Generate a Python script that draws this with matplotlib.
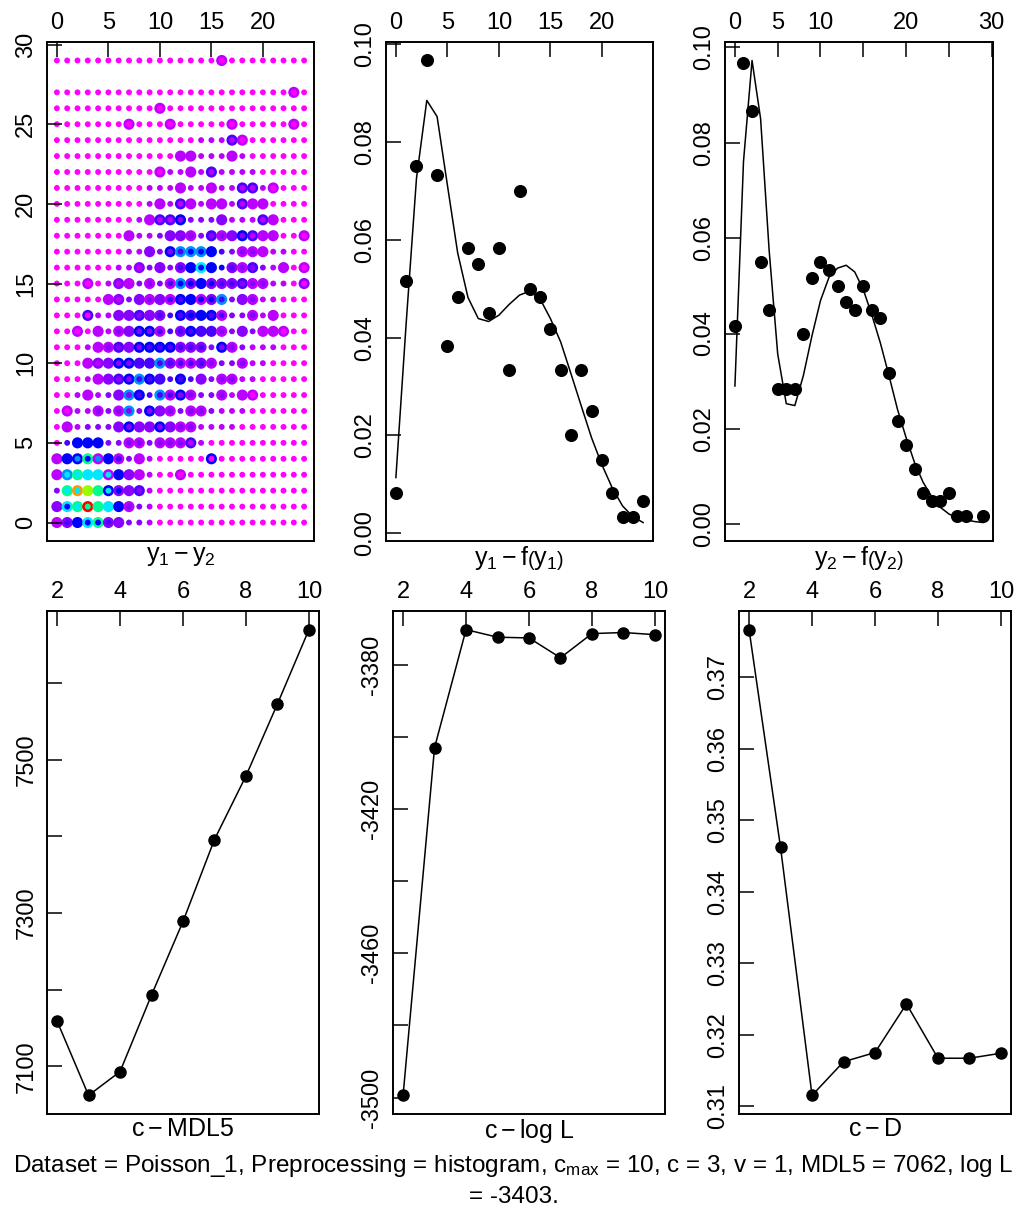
import numpy as np
import matplotlib
matplotlib.use("Agg")
import matplotlib.pyplot as plt

plt.rcParams['font.family'] = ['Liberation Sans', 'DejaVu Sans']
plt.rcParams['mathtext.fontset'] = 'custom'
plt.rcParams['mathtext.rm'] = 'Liberation Sans'
plt.rcParams['mathtext.it'] = 'Liberation Sans:italic'

# ---- panel 1: y1 - y2 grid (rows are y2 values, columns y1 = 0..24)
# empirical frequency level ('.' = no observation, 'a' = 10)
y2_rows = [29, 27, 26, 25, 24, 23, 22, 21, 20, 19, 18, 17, 16, 15, 14,
           13, 12, 11, 10, 9, 8, 7, 6, 5, 4, 3, 2, 1, 0]
emp_grid = [
    "................1........",
    ".......................1.",
    "..........1..............",
    ".......1...1.....1.....1.",
    ".................31......",
    "............11...1.......",
    "..........1..1.3.........",
    "............1..1..33.1...",
    "..........1.31.11.311....",
    ".........1334...2...31...",
    ".......1...221.3124311..1",
    ".........2.45554..111....",
    "........2.2.2464.213..1.1",
    "...1..21.1.1524222311...2",
    ".....12.212144125.21.....",
    "...3..22322.43441..1.1...",
    "..1.1.12441.24331.2.111..",
    "....11324444222.41.......",
    "...1224433521121..1......",
    "....1234543.4.2.11.......",
    "...1..254.5141..1.11.....",
    ".1..1.15.421.11..........",
    ".1....24224211...........",
    "..444..11.1113...........",
    "1447141.1......4.........",
    "157661421...1............",
    ".79874223................",
    "267a7641.................",
    "1246722..................",
]
# fitted density level at every grid point
fit_grid = [
    "0000000000000000000000000",
    "0000000000000000000000000",
    "0000000000000000000000000",
    "0000000000000000000000000",
    "0000000000000011110000000",
    "0000000000001111111000000",
    "0000000000011111111100000",
    "0000000001111111111110000",
    "0000000001111111111110000",
    "0000000011112222211111000",
    "0000000111222222222111000",
    "0000000112223444322211100",
    "0000001112223444432221100",
    "0000011122234444332221100",
    "0000011222233444322211000",
    "0000112222333443322211000",
    "0000112222333333222211000",
    "0001122223333332222111000",
    "0001122233333332222110000",
    "0001122233333322221100000",
    "0011122233332222211000000",
    "0011222222222222111000000",
    "0112222222222211110000000",
    "0344422222222110000000000",
    "1454543211000000000000000",
    "1666664211000000000000000",
    "2668764221000000000000000",
    "2467764221000000000000000",
    "1344432221000000000000000",
]
palette = ['#FF00FF', '#BB00FF', '#8800FF', '#4A00FF', '#0000FF', '#0090FF',
           '#00E8FF', '#00FF90', '#99FF00', '#FF9900', '#FF0000']

# ---- panel 2: y1 empirical and fitted marginal
y1_x = list(range(25))
y1_emp = [5, 31, 45, 58, 44, 23, 29, 35, 33, 27, 35, 20, 42, 30, 29, 25,
          20, 12, 20, 15, 9, 5, 2, 2, 4]
y1_fit = [0.0114, 0.0430, 0.0726, 0.0885, 0.0852, 0.0712, 0.0573, 0.0482,
          0.0439, 0.0433, 0.0446, 0.0468, 0.0487, 0.0495, 0.0479, 0.0439,
          0.0391, 0.0326, 0.0260, 0.0195, 0.0140, 0.0093, 0.0056, 0.0034,
          0.0022]

# ---- panel 3: y2 empirical and fitted marginal
y2_x = [0, 1, 2, 3, 4, 5, 6, 7, 8, 9, 10, 11, 12, 13, 14, 15, 16, 17, 18,
        19, 20, 21, 22, 23, 24, 25, 26, 27, 29]
y2_emp = [25, 58, 52, 33, 27, 17, 17, 17, 24, 31, 33, 32, 30, 28, 27, 30,
          27, 26, 19, 13, 10, 7, 4, 3, 3, 4, 1, 1, 1]
y2_fit_x = list(range(30))
y2_fit = [0.0290, 0.0760, 0.0972, 0.0850, 0.0574, 0.0357, 0.0253, 0.0249,
          0.0312, 0.0395, 0.0469, 0.0518, 0.0537, 0.0543, 0.0529, 0.0492,
          0.0439, 0.0380, 0.0312, 0.0241, 0.0182, 0.0129, 0.0088, 0.0058,
          0.0036, 0.0022, 0.0013, 0.0010, 0.0006, 0.0004]
n_obs = 600

# ---- bottom panels: criteria vs number of components
c_vals = [2, 3, 4, 5, 6, 7, 8, 9, 10]
mdl5 = [7159, 7062, 7093, 7193, 7289, 7396, 7479, 7573, 7670]
logL = [-3499.4, -3403, -3370.3, -3372.4, -3372.6, -3378.1, -3371.4,
        -3371.1, -3371.7]
dval = [0.3767, 0.3462, 0.3115, 0.3162, 0.3175, 0.3243, 0.3167, 0.3167,
        0.3174]

W, H = 1027, 1211
fig = plt.figure(figsize=(W / 100, H / 100), dpi=100)


def box(l, r, t, b):
    return [l / W, 1 - b / H, (r - l) / W, (b - t) / H]


FS = 17      # tick labels
FL = 18      # axis labels
FC = 17.5    # caption


def style(ax, xt, xl, yt, yl, xlabel):
    ax.xaxis.tick_top()
    ax.set_xticks(xt)
    ax.set_xticklabels(xl)
    ax.set_yticks(yt)
    ax.set_yticklabels(yl, rotation=90, va='center')
    ax.tick_params(direction='in', length=11, width=1.1, labelsize=FS,
                   pad=6, colors='black')
    ax.tick_params(axis='y', pad=7)
    for s in ax.spines.values():
        s.set_linewidth(1.4)
    ax.xaxis.set_label_position('bottom')
    ax.set_xlabel(xlabel, fontsize=FL, labelpad=2)
    ax.margins(0.04)


# panel 1
ax1 = fig.add_axes(box(47, 314, 42, 541))
bx, by, bc, sx, sy, sc = [], [], [], [], [], []
for yv, erow, frow in zip(y2_rows, emp_grid, fit_grid):
    for xv in range(25):
        if erow[xv] != '.':
            bx.append(xv)
            by.append(yv)
            bc.append(palette[int(erow[xv], 16)])
        sx.append(xv)
        sy.append(yv)
        sc.append(palette[int(frow[xv])])
ax1.scatter(bx, by, s=64, c=bc, linewidths=0)
ax1.scatter(sx, sy, s=18, c=sc, linewidths=0)
style(ax1, [0, 5, 10, 15, 20], ['0', '5', '10', '15', '20'],
      [0, 5, 10, 15, 20, 25, 30], ['0', '5', '10', '15', '20', '25', '30'],
      r'$\mathrm{y_1 - y_2}$')
ax1.set_ylim(-1.16, 30.16)

# panel 2
ax2 = fig.add_axes(box(386, 653, 42, 541))
ax2.plot(y1_x, np.array(y1_emp) / n_obs, 'o', color='black', ms=8.4)
ax2.plot(y1_x, y1_fit, color='black', lw=1.1)
yt = [0, 0.02, 0.04, 0.06, 0.08, 0.10]
style(ax2, [0, 5, 10, 15, 20], ['0', '5', '10', '15', '20'],
      yt, ['%.2f' % v for v in yt], r'$\mathrm{y_1 - f\left(y_1\right)}$')

# panel 3
ax3 = fig.add_axes(box(725, 993, 42, 541))
ax3.plot(y2_x, np.array(y2_emp) / n_obs, 'o', color='black', ms=8.4)
ax3.plot(y2_fit_x, y2_fit, color='black', lw=1.1)
style(ax3, [0, 5, 10, 15, 20, 25, 30], ['0', '5', '10', '', '20', '', '30'],
      yt, ['%.2f' % v for v in yt], r'$\mathrm{y_2 - f\left(y_2\right)}$')

# bottom row
ct = [2, 4, 6, 8, 10]
ctl = [str(v) for v in ct]

ax4 = fig.add_axes(box(47, 319, 611, 1114))
ax4.plot(c_vals, mdl5, '-o', color='black', ms=8, lw=1.1)
t4 = [7100, 7200, 7300, 7400, 7500, 7600]
style(ax4, ct, ctl, t4, ['7100', '', '7300', '', '7500', ''],
      r'$\mathrm{c - MDL5}$')

ax5 = fig.add_axes(box(393, 665, 611, 1114))
ax5.plot(c_vals, logL, '-o', color='black', ms=8, lw=1.1)
t5 = [-3500, -3480, -3460, -3440, -3420, -3400, -3380]
style(ax5, ct, ctl, t5, ['-3500', '', '-3460', '', '-3420', '', '-3380'],
      r'$\mathrm{c - log\ L}$')

ax6 = fig.add_axes(box(739, 1011, 611, 1114))
ax6.plot(c_vals, dval, '-o', color='black', ms=8, lw=1.1)
t6 = [0.31, 0.32, 0.33, 0.34, 0.35, 0.36, 0.37]
style(ax6, ct, ctl, t6, ['%.2f' % v for v in t6], r'$\mathrm{c - D}$')

fig.text(0.5, 1 - 1166 / H,
         r'Dataset = Poisson_1, Preprocessing = histogram, c$_{\mathrm{max}}$'
         r' = 10, c = 3, v = 1, MDL5 = 7062, log L',
         ha='center', va='center', fontsize=FC)
fig.text(0.5, 1 - 1197 / H, '= -3403.', ha='center', va='center',
         fontsize=FC)

fig.savefig('out.png', dpi=100)
